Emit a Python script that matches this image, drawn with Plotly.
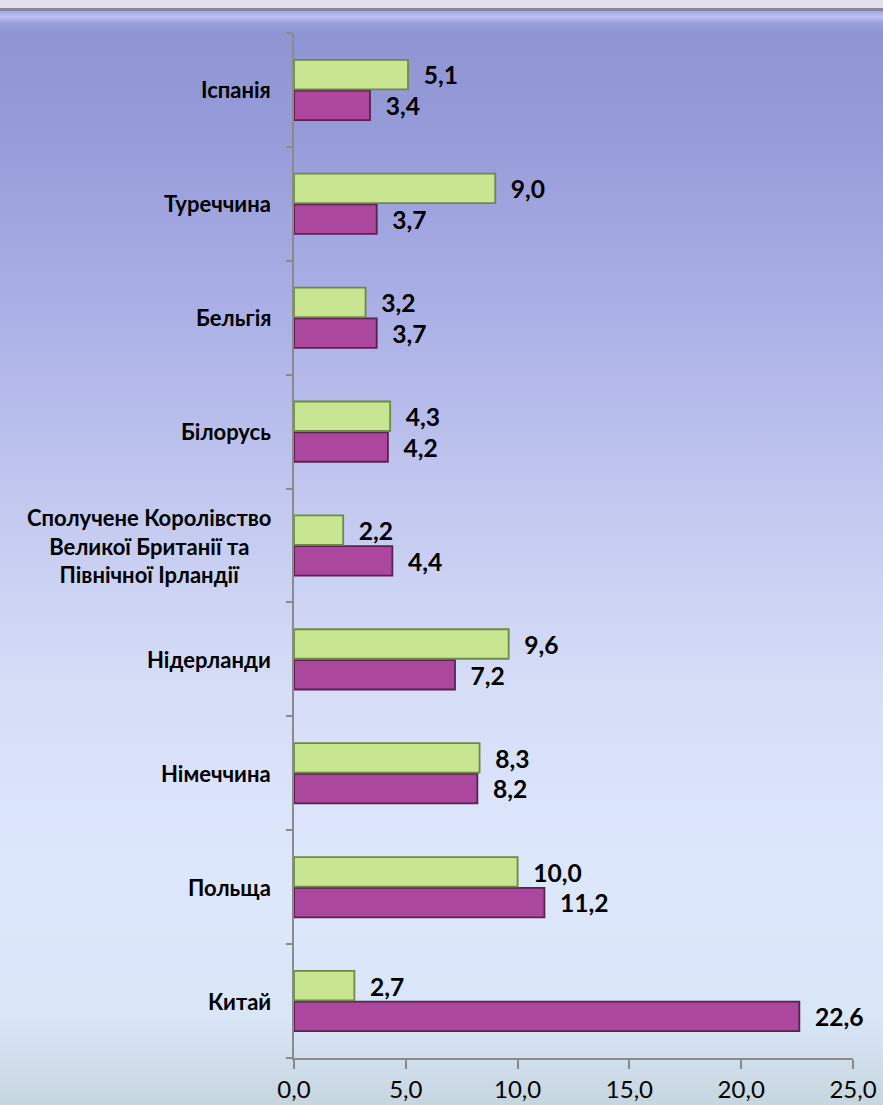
import base64

import plotly.graph_objects as go

# --- data (bottom-to-top order, as plotly draws categories) ---------------- #
countries = [
    "Китай",
    "Польща",
    "Німеччина",
    "Нідерланди",
    "Сполучене Королівство<br>Великої Британії та<br>Північної Ірландії",
    "Білорусь",
    "Бельгія",
    "Туреччина",
    "Іспанія",
]
green_values = [2.7, 10.0, 8.3, 9.6, 2.2, 4.3, 3.2, 9.0, 5.1]
purple_values = [22.6, 11.2, 8.2, 7.2, 4.4, 4.2, 3.7, 3.7, 3.4]
x_ticks = [0, 5, 10, 15, 20, 25]

W, H = 883, 1105
ML, MR, MT, MB = 294, 30, 33, 47
PW, PH = W - ML - MR, H - MT - MB
FONT = "Lato, 'Open Sans', sans-serif"


# --- background: gradient drawn as an inline svg image --------------------- #
def background_svg() -> str:
    stops = [
        (0.000, "#e4dfea"), (0.0072, "#e4dfea"), (0.0073, "#85859c"),
        (0.0095, "#85859c"), (0.0096, "#9ea3e2"), (0.015, "#bcc0f4"),
        (0.021, "#9a9fdc"), (0.030, "#8f94d3"), (0.10, "#9499d7"),
        (0.27, "#a9aee5"), (0.45, "#c2c8ef"), (0.62, "#d5ddf7"),
        (0.78, "#dde7fb"), (0.92, "#d9e6f8"), (1.0, "#c6d6df"),
    ]
    stop_xml = "".join(
        f'<stop offset="{o}" stop-color="{c}"/>' for o, c in stops
    )
    svg = (
        f'<svg xmlns="http://www.w3.org/2000/svg" width="{W}" height="{H}" '
        f'preserveAspectRatio="none" viewBox="0 0 {W} {H}">'
        f'<defs><linearGradient id="g" x1="0" y1="0" x2="0" y2="1">{stop_xml}'
        f'</linearGradient></defs>'
        f'<rect width="{W}" height="{H}" fill="url(#g)"/></svg>'
    )
    return "data:image/svg+xml;base64," + base64.b64encode(svg.encode()).decode()


pad = "\u00a0" * 2
label_font = dict(family=FONT, size=25, color="#000000")

fig = go.Figure()
fig.add_trace(go.Bar(
    y=countries, x=purple_values, orientation="h", name="purple",
    marker=dict(color="#ab479d", line=dict(color="#5a2152", width=1.8)),
    texttemplate=pad + "<b>%{x:.1f}</b>", textposition="outside",
    textfont=label_font, cliponaxis=False,
))
fig.add_trace(go.Bar(
    y=countries, x=green_values, orientation="h", name="green",
    marker=dict(color="#c8e691", line=dict(color="#6d8a44", width=1.8)),
    texttemplate=pad + "<b>%{x:.1f}</b>", textposition="outside",
    textfont=label_font, cliponaxis=False,
))

# category labels: centred multi-line text to the left of the axis
for name in countries:
    fig.add_annotation(
        x=0, xref="paper", y=name, yref="y", xanchor="right", xshift=-21,
        text=f"<b>{name}</b>", showarrow=False, align="center",
        font=dict(family=FONT, size=22, color="#000000"),
    )

fig.update_layout(
    width=W, height=H,
    margin=dict(l=ML, r=MR, t=MT, b=MB, autoexpand=False),
    paper_bgcolor="rgba(0,0,0,0)", plot_bgcolor="rgba(0,0,0,0)",
    barmode="group", bargap=0.46, bargroupgap=0.04,
    showlegend=False, separators=", ",
    images=[dict(
        source=background_svg(), xref="paper", yref="paper",
        x=-ML / PW, y=1 + MT / PH, sizex=W / PW, sizey=H / PH,
        xanchor="left", yanchor="top", sizing="stretch", layer="below",
    )],
)
fig.update_xaxes(
    range=[0, 25], tickvals=x_ticks, tickformat=".1f", automargin=False,
    showgrid=False, zeroline=False,
    showline=True, linecolor="#8a8a8a", linewidth=1.5,
    ticks="outside", ticklen=9, tickcolor="#8a8a8a", tickwidth=1.5,
    tickfont=dict(family=FONT, size=24, color="#000000"),
)
fig.update_yaxes(
    showticklabels=False, showgrid=False, zeroline=False, automargin=False,
    showline=True, linecolor="#8a8a8a", linewidth=1.5,
    ticks="outside", ticklen=6, tickcolor="#8a8a8a", tickwidth=1.5,
    tickson="boundaries",
)

page_css = (
    "document.documentElement.style.margin='0';"
    "document.documentElement.style.overflow='hidden';"
    "document.body.style.margin='0';"
    "document.body.style.overflow='hidden';"
)
fig.write_html("out.html", config={"displayModeBar": False}, post_script=page_css)
